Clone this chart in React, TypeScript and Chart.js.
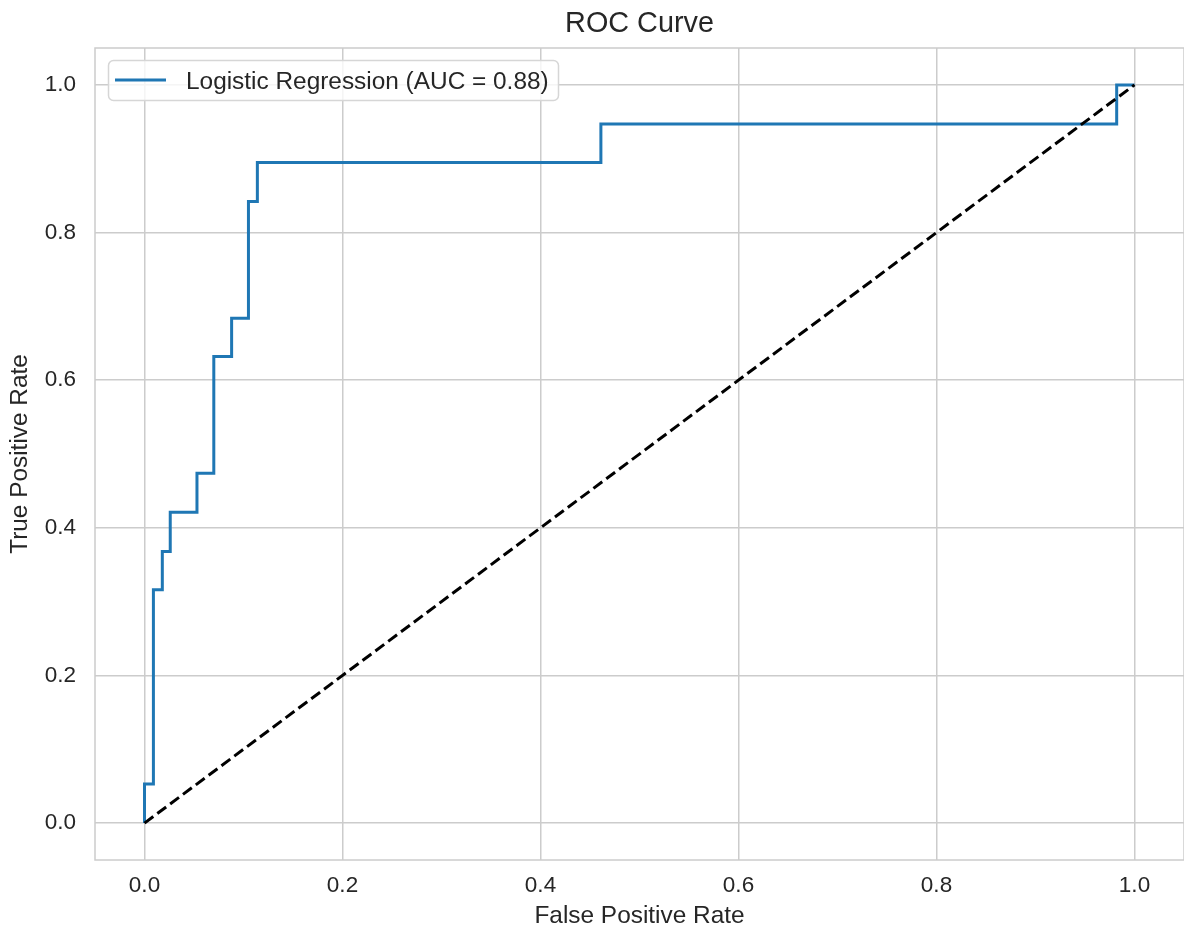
import React, { useEffect, useRef } from "react";
import { Chart, registerables } from "chart.js";

Chart.register(...registerables);

const chartTitle = "ROC Curve";
const xAxisTitle = "False Positive Rate";
const yAxisTitle = "True Positive Rate";
const rocLabel = "Logistic Regression (AUC = 0.88)";

const fprValues = [0, 0, 0.009, 0.009, 0.018, 0.018, 0.026, 0.026, 0.053, 0.053, 0.07, 0.07, 0.088, 0.088, 0.105, 0.105, 0.114, 0.114, 0.461, 0.461, 0.982, 0.982, 1.0];
const tprValues = [0, 0.053, 0.053, 0.316, 0.316, 0.368, 0.368, 0.421, 0.421, 0.474, 0.474, 0.632, 0.632, 0.684, 0.684, 0.842, 0.842, 0.895, 0.895, 0.947, 0.947, 1.0, 1.0];

const chanceX = [0, 1];
const chanceY = [0, 1];

const xTicks = [0, 0.2, 0.4, 0.6, 0.8, 1.0];
const yTicks = [0, 0.2, 0.4, 0.6, 0.8, 1.0];

const FONT = "'Liberation Sans', Arial, Helvetica, sans-serif";
const TEXT = "#262626";
const GRID = "#cccccc";
const BLUE = "#1f77b4";

const decorPlugin = {
  id: "decor",
  beforeDatasetsDraw(chart: any) {
    const { ctx, chartArea } = chart;
    ctx.save();
    ctx.strokeStyle = GRID;
    ctx.lineWidth = 1.5;
    ctx.strokeRect(chartArea.left, chartArea.top, chartArea.right - chartArea.left, chartArea.bottom - chartArea.top);
    ctx.restore();
  },
  afterDatasetsDraw(chart: any) {
    const { ctx } = chart;
    ctx.save();
    const x = 108.5, y = 60.5, w = 450, h = 40, r = 5;
    ctx.beginPath();
    ctx.moveTo(x + r, y);
    ctx.lineTo(x + w - r, y);
    ctx.arcTo(x + w, y, x + w, y + r, r);
    ctx.lineTo(x + w, y + h - r);
    ctx.arcTo(x + w, y + h, x + w - r, y + h, r);
    ctx.lineTo(x + r, y + h);
    ctx.arcTo(x, y + h, x, y + h - r, r);
    ctx.lineTo(x, y + r);
    ctx.arcTo(x, y, x + r, y, r);
    ctx.closePath();
    ctx.fillStyle = "rgba(255,255,255,0.8)";
    ctx.fill();
    ctx.strokeStyle = "#d6d6d6";
    ctx.lineWidth = 1.5;
    ctx.stroke();
    ctx.beginPath();
    ctx.moveTo(115, 80);
    ctx.lineTo(166, 80);
    ctx.strokeStyle = BLUE;
    ctx.lineWidth = 3;
    ctx.stroke();
    ctx.fillStyle = TEXT;
    ctx.font = `24.4px ${FONT}`;
    ctx.textAlign = "left";
    ctx.textBaseline = "alphabetic";
    ctx.fillText(chart.data.datasets[0].label, 186, 89);
    ctx.restore();
  },
  afterDraw(chart: any) {
    const { ctx, chartArea } = chart;
    ctx.save();
    ctx.fillStyle = TEXT;
    ctx.font = `28.8px ${FONT}`;
    ctx.textAlign = "center";
    ctx.textBaseline = "alphabetic";
    ctx.fillText(chartTitle, (chartArea.left + chartArea.right) / 2, 32);
    ctx.restore();
  },
};

export default function App() {
  const canvasRef = useRef<HTMLCanvasElement | null>(null);

  useEffect(() => {
    document.body.style.margin = "0";
    const canvas = canvasRef.current;
    if (!canvas) return;
    const rocPoints = fprValues.map((v, i) => ({ x: v, y: tprValues[i] }));
    const chancePoints = chanceX.map((v, i) => ({ x: v, y: chanceY[i] }));
    const chart = new Chart(canvas, {
      type: "line",
      data: {
        datasets: [
          {
            label: rocLabel,
            data: rocPoints,
            borderColor: BLUE,
            borderWidth: 3,
            pointRadius: 0,
            tension: 0,
            fill: false,
            order: 1,
          },
          {
            label: "Chance",
            data: chancePoints,
            borderColor: "#000000",
            borderWidth: 3,
            borderDash: [11, 5],
            pointRadius: 0,
            tension: 0,
            fill: false,
            order: 0,
          },
        ],
      },
      options: {
        animation: false,
        responsive: false,
        devicePixelRatio: 1,
        layout: { padding: { top: 48, left: 0, right: 0, bottom: 0 } },
        plugins: {
          legend: { display: false },
          title: { display: false },
          tooltip: { enabled: false },
        },
        scales: {
          x: {
            type: "linear",
            min: -0.05,
            max: 1.05,
            afterBuildTicks: (scale: any) => {
              scale.ticks = xTicks.map((v) => ({ value: v }));
            },
            afterFit: (scale: any) => {
              scale.height = 71;
            },
            grid: { color: GRID, lineWidth: 1.5, drawTicks: false },
            border: { display: false },
            ticks: {
              padding: 12,
              color: TEXT,
              font: { family: FONT, size: 22.5 },
              maxRotation: 0,
              callback: (v: any) => Number(v).toFixed(1),
            },
            title: {
              display: true,
              text: xAxisTitle,
              color: TEXT,
              font: { family: FONT, size: 24.4 },
              padding: { top: 0, bottom: 0 },
            },
          },
          y: {
            type: "linear",
            min: -0.05,
            max: 1.05,
            afterBuildTicks: (scale: any) => {
              scale.ticks = yTicks.map((v) => ({ value: v }));
            },
            afterFit: (scale: any) => {
              scale.width = 95;
            },
            grid: { color: GRID, lineWidth: 1.5, drawTicks: false },
            border: { display: false },
            ticks: {
              padding: 19,
              color: TEXT,
              font: { family: FONT, size: 22.5 },
              callback: (v: any) => Number(v).toFixed(1),
            },
            title: {
              display: true,
              text: yAxisTitle,
              color: TEXT,
              font: { family: FONT, size: 24.4 },
              padding: { top: 6, bottom: 0 },
            },
          },
        },
      },
      plugins: [decorPlugin],
    });
    return () => chart.destroy();
  }, []);

  return (
    <div style={{ width: 1184, height: 931 }}>
      <canvas ref={canvasRef} width={1184} height={931} style={{ display: "block", width: 1184, height: 931 }} />
    </div>
  );
}
